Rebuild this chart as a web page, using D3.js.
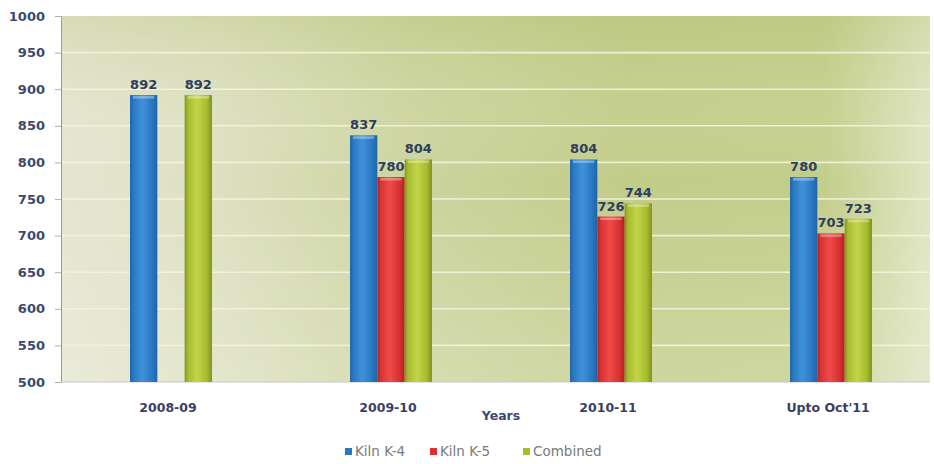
<!DOCTYPE html>
<html><head><meta charset="utf-8">
<script src="https://cdn.jsdelivr.net/npm/d3@7"></script>
<style>body{margin:0;background:#fff}svg{display:block}</style>
</head><body><svg id="c" width="934" height="464"></svg>
<script>
const categories = ["2008-09", "2009-10", "2010-11", "Upto Oct'11"];
const seriesNames = ["Kiln K-4", "Kiln K-5", "Combined"];
const kilnK4 = [892, 837, 804, 780];
const kilnK5 = [null, 780, 726, 703];
const combined = [892, 804, 744, 723];
const yTicks = [500, 550, 600, 650, 700, 750, 800, 850, 900, 950, 1000];
const seriesValues = [kilnK4, kilnK5, combined];

const colors = {
  "Kiln K-4": ["#1f64a8", "#3f92da", "#2a78c2"],
  "Kiln K-5": ["#b81e22", "#ef4b48", "#d83233"],
  "Combined": ["#7f9420", "#c3d448", "#a8bc30"]
};
const FONT = "DejaVu Sans, Verdana, sans-serif";

const svg = d3.select("#c");
const pLeft = 61, pRight = 941, pTop = 16, pBottom = 382, bgRight = 930;

const y = d3.scaleLinear().domain([500, 1000]).range([pBottom, pTop]);
const x0 = d3.scaleBand().domain(categories).range([pLeft, pRight]).padding(0);
const x1 = d3.scaleBand().domain(seriesNames)
  .range([x0.bandwidth() / 2 - 41, x0.bandwidth() / 2 + 41]).padding(0);

const defs = svg.append("defs");
const bg = defs.append("linearGradient").attr("id", "bg").attr("x1", 0).attr("x2", 1).attr("y1", 0).attr("y2", 0);
[["0%", "#e4e5d0"], ["18%", "#dde0c0"], ["40%", "#ccd49e"], ["65%", "#c2cc89"], ["88%", "#c4ce8b"], ["100%", "#dfe5c2"]]
  .forEach(([o, c]) => bg.append("stop").attr("offset", o).attr("stop-color", c));
const bgv = defs.append("linearGradient").attr("id", "bgv").attr("x1", 0).attr("x2", 0).attr("y1", 0).attr("y2", 1);
[["0%", "#b0bd68", 0.25], ["45%", "#ffffff", 0], ["100%", "#ffffff", 0.2]]
  .forEach(([o, c, a]) => bgv.append("stop").attr("offset", o).attr("stop-color", c).attr("stop-opacity", a));

seriesNames.forEach((s, i) => {
  const g = defs.append("linearGradient").attr("id", "g" + i).attr("x1", 0).attr("x2", 1).attr("y1", 0).attr("y2", 0);
  const c = colors[s];
  [["0%", c[0]], ["12%", c[2]], ["45%", c[1]], ["80%", c[2]], ["100%", c[0]]]
    .forEach(([o, col]) => g.append("stop").attr("offset", o).attr("stop-color", col));
});

svg.append("rect").attr("x", pLeft).attr("y", pTop).attr("width", bgRight - pLeft).attr("height", pBottom - pTop).attr("fill", "url(#bg)");
svg.append("rect").attr("x", pLeft).attr("y", pTop).attr("width", bgRight - pLeft).attr("height", pBottom - pTop).attr("fill", "url(#bgv)");

svg.append("g").selectAll("line").data(yTicks.filter(t => t > 500 && t < 1000)).join("line")
  .attr("x1", pLeft + 1).attr("x2", bgRight).attr("y1", d => y(d)).attr("y2", d => y(d))
  .attr("stroke", "#f4f4dc").attr("stroke-width", 1.6).attr("opacity", 0.9);

const yAxis = svg.append("g").attr("transform", `translate(${pLeft},0)`)
  .call(d3.axisLeft(y).tickValues(yTicks).tickFormat(d3.format("d")).tickSize(6).tickPadding(10));
yAxis.select(".domain").attr("stroke", "#9a9a9a");
yAxis.selectAll(".tick line").attr("stroke", "#b0b0b0");
yAxis.selectAll("text").attr("font-family", FONT).attr("font-weight", "bold")
  .attr("font-size", 13).attr("fill", "#3c4a6e");
svg.append("line").attr("x1", pLeft).attr("x2", bgRight).attr("y1", pBottom).attr("y2", pBottom).attr("stroke", "#c8c8c8");

const groups = svg.append("g").selectAll("g").data(categories).join("g")
  .attr("transform", d => `translate(${x0(d)},0)`);
const barData = (ci) => seriesNames.map((s, si) => ({ s, si, v: seriesValues[si][ci] })).filter(d => d.v != null);
groups.each(function (c, ci) {
  const g = d3.select(this);
  const data = barData(ci);
  g.selectAll("rect.bar").data(data).join("rect").attr("class", "bar")
    .attr("x", d => x1(d.s)).attr("width", x1.bandwidth())
    .attr("y", d => y(d.v)).attr("height", d => pBottom - y(d.v))
    .attr("fill", d => `url(#g${d.si})`);
  g.selectAll("rect.cap").data(data).join("rect").attr("class", "cap")
    .attr("x", d => x1(d.s) + 3).attr("width", x1.bandwidth() - 6)
    .attr("y", d => y(d.v) + 1).attr("height", 2.5)
    .attr("fill", "#ffffff").attr("opacity", 0.35);
  g.selectAll("text").data(data).join("text")
    .attr("x", d => x1(d.s) + x1.bandwidth() / 2).attr("y", d => y(d.v) - 6)
    .attr("text-anchor", "middle").attr("font-family", FONT)
    .attr("font-weight", "bold").attr("font-size", 13).attr("fill", "#2f3d5e")
    .text(d => d.v);
});

svg.append("g").selectAll("text").data(categories).join("text")
  .attr("x", d => x0(d) + x0.bandwidth() / 2 - 3).attr("y", 412)
  .attr("text-anchor", "middle").attr("font-family", FONT)
  .attr("font-weight", "bold").attr("font-size", 12.5).attr("fill", "#3a3f62").text(d => d);
svg.append("text").attr("x", 501).attr("y", 420).attr("text-anchor", "middle")
  .attr("font-family", FONT).attr("font-weight", "bold")
  .attr("font-size", 12.5).attr("fill", "#3a4a72").text("Years");

const legX = [345, 430, 523];
const leg = svg.append("g").selectAll("g").data(seriesNames).join("g")
  .attr("transform", (d, i) => `translate(${legX[i]},456)`);
leg.append("rect").attr("x", 0).attr("y", -8).attr("width", 7).attr("height", 7)
  .attr("fill", (d, i) => colors[d][2]);
leg.append("text").attr("x", 10).attr("y", 0).attr("font-family", FONT)
  .attr("font-size", 13.5).attr("fill", "#7a7a7a").text(d => d);
</script></body></html>
